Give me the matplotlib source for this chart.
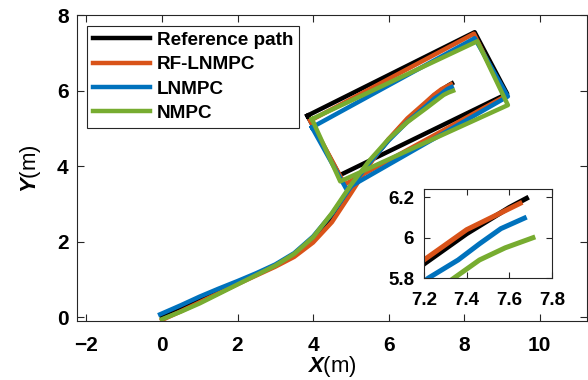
import matplotlib as mpl
mpl.use('Agg')
import matplotlib.pyplot as plt

plt.rcParams['font.family'] = ['Liberation Sans', 'DejaVu Sans']
plt.rcParams['mathtext.fontset'] = 'custom'
plt.rcParams['mathtext.rm'] = 'Liberation Sans'
plt.rcParams['mathtext.bfit'] = 'Liberation Sans:bold:italic'

# paths (x, y in m)
ref_x = [0, 0.5, 1.0, 1.5, 2.0, 2.5, 3.0, 3.5, 4.0, 4.5, 5.0, 5.5, 6.0, 6.5, 7.0, 7.2, 7.4, 7.6, 7.68]
ref_y = [0, 0.22, 0.45, 0.68, 0.91, 1.14, 1.38, 1.66, 2.05, 2.63, 3.38, 4.08, 4.7, 5.24, 5.68, 5.87, 6.02, 6.15, 6.195]

rf_x = [0, 0.5, 1.0, 1.5, 2.0, 2.5, 3.0, 3.5, 4.0, 4.5, 5.0, 5.5, 6.0, 6.5, 7.0, 7.2, 7.4, 7.65]
rf_y = [-0.07, 0.16, 0.4, 0.64, 0.88, 1.11, 1.34, 1.6, 1.98, 2.52, 3.28, 4.06, 4.72, 5.27, 5.71, 5.89, 6.04, 6.17]

ln_x = [-0.05, 0.5, 1.0, 1.5, 2.0, 2.5, 3.0, 3.5, 4.0, 4.5, 5.0, 5.5, 6.0, 6.5, 7.0, 7.22, 7.36, 7.46, 7.56, 7.67]
ln_y = [0.08, 0.32, 0.55, 0.76, 0.96, 1.17, 1.4, 1.7, 2.14, 2.74, 3.45, 4.1, 4.68, 5.18, 5.6, 5.80, 5.89, 5.97, 6.045, 6.097]

nm_x = [0, 0.5, 1.0, 1.5, 2.0, 2.5, 3.0, 3.5, 4.0, 4.5, 5.0, 5.5, 6.0, 6.5, 7.0, 7.34, 7.46, 7.58, 7.71]
nm_y = [-0.05, 0.15, 0.37, 0.62, 0.87, 1.12, 1.37, 1.68, 2.12, 2.76, 3.5, 4.16, 4.72, 5.17, 5.54, 5.80, 5.89, 5.95, 6.0]

# vehicle outline at the final pose
ref_box_x = [3.85, 8.28, 9.14, 4.70, 3.85]
ref_box_y = [5.34, 7.55, 5.92, 3.76, 5.34]
rf_box_x = [3.93, 8.26, 9.08, 4.84, 3.93]
rf_box_y = [5.21, 7.51, 5.85, 3.52, 5.21]
ln_box_x = [3.97, 8.28, 9.16, 4.88, 3.97]
ln_box_y = [5.03, 7.39, 5.85, 3.40, 5.03]
nm_box_x = [3.97, 8.35, 9.16, 4.72, 3.97]
nm_box_y = [5.25, 7.31, 5.62, 3.60, 5.25]

labels = ['Reference path', 'RF-LNMPC', 'LNMPC', 'NMPC']
colors = ['#000000', '#D95319', '#0072BD', '#77AC30']
paths = [(ref_x, ref_y), (rf_x, rf_y), (ln_x, ln_y), (nm_x, nm_y)]
boxes = [(ref_box_x, ref_box_y), (rf_box_x, rf_box_y), (ln_box_x, ln_box_y), (nm_box_x, nm_box_y)]

lw = 3.2
fig = plt.figure(figsize=(5.88, 3.80), dpi=100)
ax = fig.add_axes([0.131, 0.155, 0.867, 0.805])

handles = []
for (px, py), (bx, by), c, lab in zip(paths, boxes, colors, labels):
    h, = ax.plot(px, py, color=c, lw=lw, label=lab)
    ax.plot(bx, by, color=c, lw=lw)
    handles.append(h)

ax.set_xlim(-2.25, 11.25)
ax.set_ylim(-0.1, 8)
ax.set_xticks([-2, 0, 2, 4, 6, 8, 10])
ax.set_yticks([0, 2, 4, 6, 8])
ax.tick_params(direction='in', top=True, right=True, labelsize=15, length=5, color='#262626', width=0.8)
ax.tick_params(axis='x', pad=11)
ax.tick_params(axis='y', pad=6)
for t in ax.get_xticklabels() + ax.get_yticklabels():
    t.set_fontweight('bold')
for s in ax.spines.values():
    s.set_color('#262626')
    s.set_linewidth(0.8)
ax.set_xlabel(r'$\mathbfit{X}$(m)', fontsize=16, labelpad=-1)
ax.set_ylabel(r'$\mathbfit{Y}$(m)', fontsize=16, labelpad=10)

leg = ax.legend(handles=handles, loc='upper left', bbox_to_anchor=(0.0, 1.0), borderaxespad=0.55,
                prop={'weight': 'bold', 'size': 13.6}, handlelength=3.0, handletextpad=0.35,
                labelspacing=0.38, fancybox=False, framealpha=1, edgecolor='#262626',
                borderpad=0.32)
leg.get_frame().set_linewidth(0.8)

# zoomed inset
axi = fig.add_axes([0.721, 0.268, 0.218, 0.234])
for (px, py), c in zip(paths, colors):
    axi.plot(px, py, color=c, lw=lw + 0.4)
axi.set_xlim(7.2, 7.8)
axi.set_ylim(5.8, 6.24)
axi.set_xticks([7.2, 7.4, 7.6, 7.8])
axi.set_yticks([5.8, 6.0, 6.2])
axi.set_yticklabels(['5.8', '6', '6.2'])
axi.tick_params(direction='in', top=True, right=True, labelsize=13.5, length=4, color='#262626', width=0.8)
axi.tick_params(axis='x', pad=10)
axi.tick_params(axis='y', pad=7)
for t in axi.get_xticklabels() + axi.get_yticklabels():
    t.set_fontweight('bold')
for s in axi.spines.values():
    s.set_color('#262626')
    s.set_linewidth(0.8)

plt.savefig('out.png', dpi=100)
